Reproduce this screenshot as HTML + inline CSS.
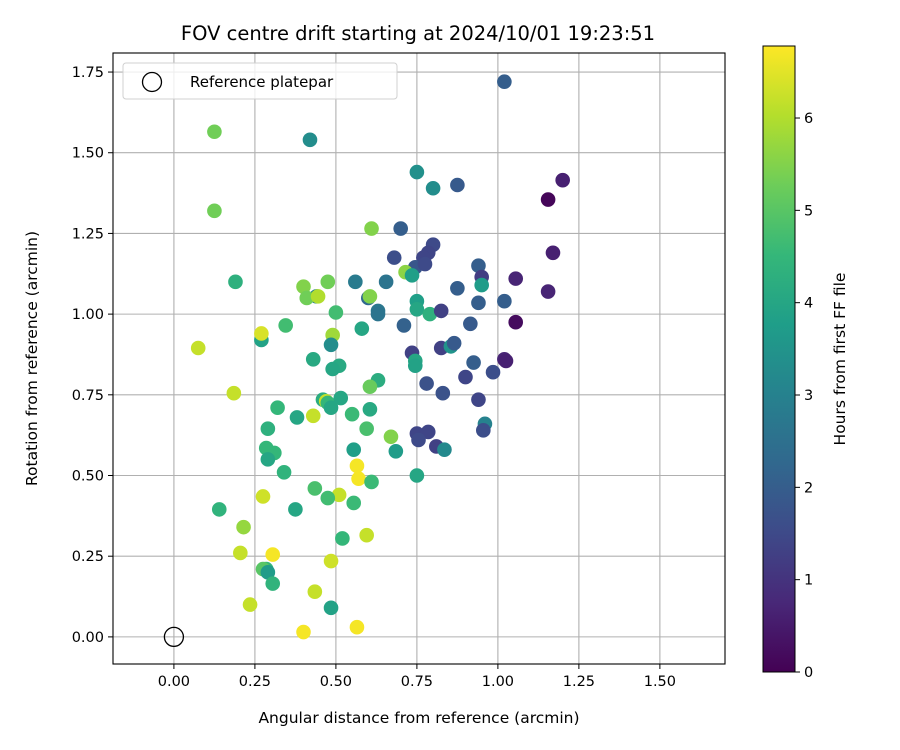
<!DOCTYPE html>
<html><head><meta charset="utf-8"><style>body{margin:0;background:#fff}svg{display:block;font-family:"DejaVu Sans","Liberation Sans",sans-serif}</style></head>
<body>
<svg id="chart" width="900" height="750" viewBox="0 0 900 750"></svg>
<script>
const xs=[1.02,0.42,0.125,0.125,0.75,0.80,0.875,1.20,1.155,0.70,0.61,0.80,0.785,0.77,1.17,0.68,0.745,0.775,0.94,0.95,1.055,0.56,0.655,0.19,0.475,0.40,0.715,0.735,0.95,0.875,1.155,0.44,0.41,0.445,0.60,0.605,0.75,0.94,1.02,0.50,0.63,0.63,0.75,0.79,0.825,1.055,0.71,0.915,0.345,0.58,0.49,0.27,0.27,0.075,0.485,0.825,0.855,0.865,0.735,1.02,1.025,0.43,0.51,0.49,0.745,0.745,0.925,0.985,0.90,0.63,0.605,0.78,0.83,0.185,0.46,0.47,0.475,0.485,0.515,0.94,0.32,0.605,0.38,0.43,0.55,0.595,0.75,0.785,0.755,0.96,0.955,0.29,0.67,0.81,0.285,0.31,0.555,0.685,0.835,0.29,0.34,0.565,0.75,0.57,0.61,0.435,0.51,0.275,0.475,0.555,0.14,0.375,0.215,0.595,0.52,0.305,0.205,0.485,0.285,0.275,0.29,0.305,0.435,0.235,0.485,0.40,0.565];
const ys=[1.72,1.54,1.565,1.32,1.44,1.39,1.40,1.415,1.355,1.265,1.265,1.215,1.19,1.175,1.19,1.175,1.145,1.155,1.15,1.115,1.11,1.10,1.10,1.10,1.10,1.085,1.13,1.12,1.09,1.08,1.07,1.055,1.05,1.055,1.05,1.055,1.04,1.035,1.04,1.005,1.01,1.0,1.015,1.0,1.01,0.975,0.965,0.97,0.965,0.955,0.935,0.92,0.94,0.895,0.905,0.895,0.90,0.91,0.88,0.86,0.855,0.86,0.84,0.83,0.855,0.84,0.85,0.82,0.805,0.795,0.775,0.785,0.755,0.755,0.735,0.73,0.725,0.71,0.74,0.735,0.71,0.705,0.68,0.685,0.69,0.645,0.63,0.635,0.61,0.66,0.64,0.645,0.62,0.59,0.585,0.57,0.58,0.575,0.58,0.55,0.51,0.53,0.50,0.49,0.48,0.46,0.44,0.435,0.43,0.415,0.395,0.395,0.34,0.315,0.305,0.255,0.26,0.235,0.21,0.21,0.20,0.165,0.14,0.10,0.09,0.015,0.03];
const hours=[2.0,3.3,5.3,5.3,3.4,3.3,1.9,0.6,0.1,2.0,5.5,1.5,1.4,1.4,0.6,1.6,1.8,1.5,2.0,1.2,0.7,2.8,2.6,4.3,5.3,5.5,5.6,3.8,3.7,2.0,0.7,3.0,5.3,6.0,2.3,5.5,3.8,2.0,2.0,4.7,2.7,2.6,4.0,4.3,1.3,0.2,2.1,1.9,4.7,4.0,5.8,3.9,6.4,6.2,3.3,1.3,3.5,1.9,1.3,0.7,0.6,4.1,4.1,4.0,4.0,3.9,2.0,1.6,1.4,4.2,5.2,1.7,1.7,6.2,4.2,6.2,4.5,4.0,4.0,1.4,4.5,4.1,4.0,6.2,4.6,4.8,1.4,1.4,1.5,3.0,1.6,4.3,5.5,1.3,4.5,4.5,3.8,3.7,3.2,4.0,4.4,6.7,4.0,6.7,4.6,4.8,6.2,6.3,4.7,4.6,4.4,4.0,5.7,6.2,4.5,6.7,6.2,6.3,4.5,5.0,3.7,4.4,6.2,6.2,3.9,6.7,6.7];
const xTicks=[0,0.25,0.5,0.75,1.0,1.25,1.5];
const xTickLabels=["0.00","0.25","0.50","0.75","1.00","1.25","1.50"];
const yTicks=[0,0.25,0.5,0.75,1.0,1.25,1.5,1.75];
const yTickLabels=["0.00","0.25","0.50","0.75","1.00","1.25","1.50","1.75"];
const cTicks=[0,1,2,3,4,5,6];
const cMax=6.78;

const NS="http://www.w3.org/2000/svg";
const svg=document.getElementById('chart');
function mk(t,a,p){const e=document.createElementNS(NS,t);for(const k in a)e.setAttribute(k,a[k]);(p||svg).appendChild(e);return e;}
const L=113,R=725,T=53,B=664;
const xMin=-0.188,xMax=1.701,yMin=-0.084,yMax=1.809;
const sx=v=>L+(v-xMin)/(xMax-xMin)*(R-L);
const sy=v=>B-(v-yMin)/(yMax-yMin)*(B-T);
const vir=[[68,1,84],[72,40,120],[62,74,137],[49,104,142],[38,130,142],[31,158,137],[53,183,121],[109,205,89],[180,222,44],[253,231,37]];
function cmap(h){let t=Math.max(0,Math.min(1,h/cMax))*(vir.length-1);let i=Math.min(vir.length-2,Math.floor(t)),f=t-i;const c=vir[i].map((v,k)=>Math.round(v+(vir[i+1][k]-v)*f));return `rgb(${c})`;}

// title
let t=mk('text',{x:418,y:40,'text-anchor':'middle','font-size':19.5});t.textContent="FOV centre drift starting at 2024/10/01 19:23:51";

// grid
const g=mk('g',{});
xTicks.forEach(v=>mk('line',{x1:sx(v),x2:sx(v),y1:T,y2:B,stroke:'#b0b0b0','stroke-width':1.1},g));
yTicks.forEach(v=>mk('line',{x1:L,x2:R,y1:sy(v),y2:sy(v),stroke:'#b0b0b0','stroke-width':1.1},g));
// points
const pg=mk('g',{});
xs.forEach((x,i)=>{const c=mk('circle',{cx:sx(x),cy:sy(ys[i]),r:7.3,fill:cmap(hours[i])},pg);

});
// reference
const rc=mk('circle',{cx:sx(0),cy:sy(0),r:9.5,fill:'none',stroke:'#000','stroke-width':1.3});

// frame
const fr=mk('rect',{x:L,y:T,width:R-L,height:B-T,fill:'none',stroke:'#000','stroke-width':1.1});

// ticks
const xg=mk('g',{'font-size':14.5});
xTicks.forEach((v,i)=>{mk('line',{x1:sx(v),x2:sx(v),y1:B,y2:B+5,stroke:'#000'},xg);const e=mk('text',{x:sx(v),y:B+22,'text-anchor':'middle'},xg);e.textContent=xTickLabels[i];});
const yg=mk('g',{'font-size':14.5});
yTicks.forEach((v,i)=>{mk('line',{x1:L-5,x2:L,y1:sy(v),y2:sy(v),stroke:'#000'},yg);const e=mk('text',{x:L-9,y:sy(v)+5,'text-anchor':'end'},yg);e.textContent=yTickLabels[i];});
let xl=mk('text',{x:419,y:723,'text-anchor':'middle','font-size':15.5});xl.textContent="Angular distance from reference (arcmin)";

let yl=mk('text',{x:0,y:0,'text-anchor':'middle','font-size':15.5,transform:`translate(37,${(T+B)/2}) rotate(-90)`});yl.textContent="Rotation from reference (arcmin)";

// legend
const lg=mk('g',{});
mk('rect',{x:123,y:63,width:274,height:36,rx:3,fill:'#fff','fill-opacity':0.8,stroke:'#d0d0d0'},lg);
mk('circle',{cx:152,cy:82,r:9.5,fill:'none',stroke:'#000','stroke-width':1.3},lg);
let lt=mk('text',{x:190,y:87,'font-size':15},lg);lt.textContent="Reference platepar";
// colorbar
const CL=763,CR=795,CT=46,CB=672;
const defs=mk('defs',{});const grad=mk('linearGradient',{id:'vg',x1:0,y1:1,x2:0,y2:0},defs);
vir.forEach((c,i)=>mk('stop',{offset:i/(vir.length-1),'stop-color':`rgb(${c})`},grad));
const cb=mk('g',{});
mk('rect',{x:CL,y:CT,width:CR-CL,height:CB-CT,fill:'url(#vg)',stroke:'#000','stroke-width':1},cb);
const cy=v=>CB-v/cMax*(CB-CT);
cTicks.forEach(v=>{mk('line',{x1:CR,x2:CR+5,y1:cy(v),y2:cy(v),stroke:'#000'},cb);const e=mk('text',{x:CR+9,y:cy(v)+5,'font-size':14.5},cb);e.textContent=v;});
let cl=mk('text',{x:0,y:0,'text-anchor':'middle','font-size':15.5,transform:`translate(845,${(CT+CB)/2}) rotate(-90)`});cl.textContent="Hours from first FF file";

</script>
</body></html>
